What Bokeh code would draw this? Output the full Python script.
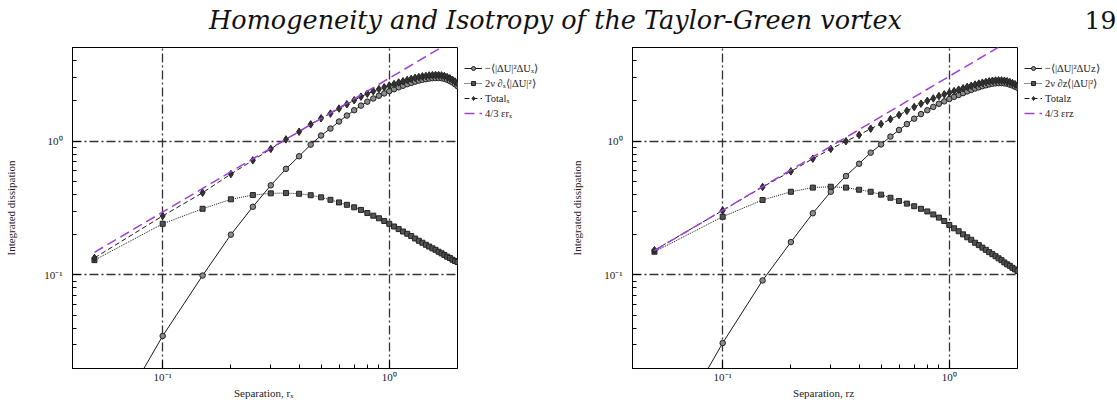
from bokeh.plotting import figure
from bokeh.models import (FixedTicker, Legend, LegendItem, Range1d,
                          CustomJSTickFormatter)
from bokeh.layouts import column, row
from bokeh.embed import file_html
from bokeh.resources import INLINE
from bokeh.core.properties import value

# ---------------- data ----------------
r = [0.05, 0.10, 0.15, 0.20, 0.25, 0.30, 0.35, 0.40, 0.45, 0.50,
     0.55, 0.60, 0.65, 0.70, 0.75, 0.80, 0.85, 0.90, 0.95, 1.00,
     1.05, 1.10, 1.15, 1.20, 1.25, 1.30, 1.35, 1.40, 1.45, 1.50,
     1.55, 1.60, 1.65, 1.70, 1.75, 1.80, 1.85, 1.90, 1.95, 2.00]

# left panel (x direction)
left_third = [0.0046, 0.035, 0.099, 0.20, 0.323, 0.467, 0.62, 0.77, 0.94, 1.10,
              1.24, 1.40, 1.55, 1.70, 1.84, 1.97, 2.08, 2.18, 2.27, 2.36,
              2.44, 2.52, 2.59, 2.66, 2.72, 2.78, 2.83, 2.87, 2.90, 2.93,
              2.95, 2.96, 2.96, 2.95, 2.92, 2.87, 2.81, 2.74, 2.66, 2.57]
left_visc = [0.129, 0.241, 0.312, 0.367, 0.395, 0.407, 0.409, 0.404, 0.394, 0.380,
             0.364, 0.348, 0.334, 0.320, 0.306, 0.290, 0.277, 0.265, 0.253, 0.241,
             0.230, 0.220, 0.211, 0.203, 0.195, 0.187, 0.180, 0.174, 0.168, 0.163,
             0.158, 0.154, 0.149, 0.145, 0.141, 0.137, 0.134, 0.130, 0.127, 0.125]
left_total = [0.134, 0.276, 0.411, 0.567, 0.718, 0.874, 1.029, 1.174, 1.334, 1.480,
              1.604, 1.748, 1.884, 2.020, 2.146, 2.260, 2.357, 2.445, 2.523, 2.601,
              2.670, 2.740, 2.801, 2.863, 2.915, 2.967, 3.010, 3.044, 3.068, 3.093,
              3.108, 3.114, 3.109, 3.095, 3.061, 3.007, 2.944, 2.870, 2.787, 2.695]
left_law_r = [0.05, 2.0]
left_law_y = [0.1475, 5.9]

# right panel (z direction)
right_third = [0.004, 0.031, 0.091, 0.176, 0.289, 0.418, 0.548, 0.677, 0.819, 0.944,
               1.08, 1.21, 1.34, 1.47, 1.59, 1.70, 1.80, 1.90, 1.98, 2.06,
               2.14, 2.21, 2.28, 2.35, 2.41, 2.47, 2.52, 2.57, 2.61, 2.65,
               2.68, 2.70, 2.71, 2.71, 2.70, 2.68, 2.64, 2.60, 2.55, 2.50]
right_visc = [0.149, 0.272, 0.363, 0.418, 0.449, 0.456, 0.449, 0.433, 0.418, 0.398,
              0.377, 0.357, 0.341, 0.326, 0.312, 0.298, 0.283, 0.268, 0.253, 0.236,
              0.223, 0.212, 0.201, 0.191, 0.183, 0.174, 0.167, 0.160, 0.154, 0.148,
              0.143, 0.138, 0.133, 0.129, 0.124, 0.120, 0.117, 0.113, 0.110, 0.107]
right_total = [0.153, 0.303, 0.454, 0.594, 0.738, 0.874, 0.997, 1.110, 1.237, 1.342,
               1.457, 1.567, 1.681, 1.796, 1.902, 1.998, 2.083, 2.168, 2.233, 2.296,
               2.363, 2.422, 2.481, 2.541, 2.593, 2.644, 2.687, 2.730, 2.764, 2.798,
               2.823, 2.838, 2.843, 2.839, 2.824, 2.800, 2.757, 2.713, 2.660, 2.607]
right_law_r = [0.05, 2.0]
right_law_y = [0.152, 6.1]

x_major = [0.1, 1.0]
x_minor = [0.2, 0.3, 0.4, 0.5, 0.6, 0.7, 0.8, 0.9]
y_major = [0.1, 1.0]
y_minor = [0.02, 0.03, 0.04, 0.05, 0.06, 0.07, 0.08, 0.09,
           0.2, 0.3, 0.4, 0.5, 0.6, 0.7, 0.8, 0.9, 2, 3, 4, 5]

title_text = ["Homogeneity and Isotropy of the Taylor-Green vortex"]
page_no = ["19"]

SERIF = "Liberation Serif"
PURPLE = "#a040d8"

fmt_code = """
const sup = {'-':'\u207b','0':'\u2070','1':'\u00b9','2':'\u00b2','3':'\u00b3',
             '4':'\u2074','5':'\u2075','6':'\u2076','7':'\u2077','8':'\u2078','9':'\u2079'};
const e = Math.round(Math.log10(tick)).toString();
return '10' + e.split('').map(c => sup[c]).join('');
"""


def style_axis(ax):
    ax.axis_line_color = "black"
    ax.axis_line_width = 1
    ax.major_tick_in = 8
    ax.major_tick_out = 0
    ax.minor_tick_in = 4
    ax.minor_tick_out = 0
    ax.major_tick_line_color = "black"
    ax.minor_tick_line_color = "black"
    ax.major_label_text_font = SERIF
    ax.major_label_text_font_size = "11px"
    ax.major_label_text_color = "#222222"
    ax.axis_label_text_font = SERIF
    ax.axis_label_text_font_size = "11px"
    ax.axis_label_text_font_style = "normal"
    ax.axis_label_text_color = "#222222"


def draw_series(p, third, visc, total, law_r, law_y):
    l1 = p.line(r, third, line_color="#1a1a1a", line_width=1)
    m1 = p.scatter(r, third, marker="circle", size=5.5, fill_color="#8c8c8c",
                   line_color="#222222", line_width=1)
    l2 = p.line(r, visc, line_color="#1a1a1a", line_width=1, line_dash="1 1")
    m2 = p.scatter(r, visc, marker="square", size=5, fill_color="#555555",
                   line_color="#222222", line_width=1)
    l3 = p.line(r, total, line_color="#1a1a1a", line_width=1, line_dash="5 3")
    m3 = p.scatter(r, total, marker="diamond", size=7.5, fill_color="#333333",
                   line_color="#222222", line_width=1)
    l4 = p.line(law_r, law_y, line_color=PURPLE, line_width=1.5, line_dash="10 5")
    return [[l1, m1], [l2, m2], [l3, m3], [l4]]


def make_panel(third, visc, total, law_r, law_y, sub, border_left, ylab_standoff):
    p = figure(width=border_left + 385 + 1, height=365, frame_width=385, frame_height=321,
               x_axis_type="log", y_axis_type="log",
               x_range=Range1d(0.04, 2.0), y_range=Range1d(0.02, 5.0),
               toolbar_location=None, output_backend="svg", title_location=None,
               min_border_left=border_left, min_border_right=1,
               min_border_top=9, min_border_bottom=35)
    p.outline_line_color = "black"
    p.outline_line_width = 1
    p.background_fill_color = "white"

    p.xaxis.ticker = FixedTicker(ticks=x_major, minor_ticks=x_minor)
    p.yaxis.ticker = FixedTicker(ticks=y_major, minor_ticks=y_minor)
    p.xaxis.formatter = CustomJSTickFormatter(code=fmt_code)
    p.yaxis.formatter = CustomJSTickFormatter(code=fmt_code)
    p.xaxis.axis_label = "Separation,  r" + sub
    p.yaxis.axis_label = "Integrated dissipation"
    style_axis(p.xaxis[0])
    style_axis(p.yaxis[0])
    p.xaxis.major_label_standoff = 2
    p.xaxis.axis_label_standoff = 1
    p.yaxis.major_label_standoff = 10
    p.yaxis.axis_label_standoff = ylab_standoff

    for g in (p.xgrid[0], p.ygrid[0]):
        g.grid_line_color = "#333333"
        g.grid_line_width = 1.3
        g.grid_line_dash = "9 3 2 3"

    draw_series(p, third, visc, total, law_r, law_y)
    return p


def make_legend(third, visc, total, law_r, law_y, sub, width):
    # a side strip that only carries the legend; its series lie out of view
    f = figure(width=width, height=365, x_range=Range1d(10, 11), y_range=Range1d(10, 11),
               toolbar_location=None, output_backend="svg", min_border=0,
               x_axis_location=None, y_axis_location=None, title_location=None)
    f.grid.visible = False
    f.outline_line_color = None
    groups = draw_series(f, third, visc, total, law_r, law_y)
    labels = ["\u2212\u27e8|\u0394U|\u00b2\u0394U" + sub + "\u27e9",
              "2\u03bd \u2202" + sub + "\u27e8|\u0394U|\u00b2\u27e9",
              "Total" + sub,
              "4/3 \u03b5r" + sub]
    legend = Legend(items=[LegendItem(label=lab, renderers=g)
                           for lab, g in zip(labels, groups)],
                    location=(6, 249))
    legend.label_text_font = SERIF
    legend.label_text_font_size = "10.5px"
    legend.label_text_color = "#222222"
    legend.label_height = 12
    legend.label_standoff = 3
    legend.glyph_width = 18
    legend.glyph_height = 10
    legend.spacing = 3
    legend.padding = 3
    legend.margin = 0
    legend.border_line_color = None
    legend.background_fill_alpha = 0
    f.add_layout(legend)
    return f


p_left = make_panel(left_third, left_visc, left_total, left_law_r, left_law_y,
                    "\u2093", 72, 24)
g_left = make_legend(left_third, left_visc, left_total, left_law_r, left_law_y,
                     "\u2093", 110)
p_right = make_panel(right_third, right_visc, right_total, right_law_r, right_law_y,
                     "z", 64, 18)
g_right = make_legend(right_third, right_visc, right_total, right_law_r, right_law_y,
                      "z", 99)

head = figure(width=1117, height=38, x_range=Range1d(0, 1117), y_range=Range1d(0, 38),
              toolbar_location=None, output_backend="svg", min_border=0,
              x_axis_location=None, y_axis_location=None, title_location=None)
head.grid.visible = False
head.outline_line_color = None
head.text(x=[555], y=[19], text=title_text, text_font=value("DejaVu Serif"),
          text_font_style="italic", text_font_size="25.5px", text_align="center",
          text_baseline="alphabetic", text_color="#111111")
head.text(x=[1084], y=[19], text=page_no, text_font=value("DejaVu Serif"),
          text_font_size="25px", text_align="left",
          text_baseline="alphabetic", text_color="#111111")

layout = column(head, row(p_left, g_left, p_right, g_right))

with open("out.html", "w") as f:
    f.write(file_html(layout, INLINE))
